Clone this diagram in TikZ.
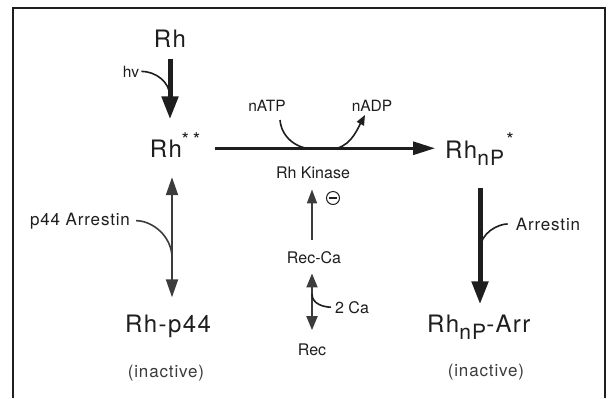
\documentclass[tikz,border=0pt]{standalone}
\usepackage{fontspec}
\setmainfont{TeX Gyre Heros}
\newfontfamily\widefont[LetterSpace=6]{TeX Gyre Heros}
\newfontfamily\spacedfont[LetterSpace=5]{TeX Gyre Heros}
\usetikzlibrary{arrows.meta}
\definecolor{ink}{HTML}{1E1E1E}
\definecolor{grayink}{HTML}{3C3C3C}
% lowered, slightly smaller subscript used in Rh_nP
\newcommand\lowsub[1]{\raisebox{-7bp}{\fontsize{21bp}{21bp}\selectfont #1}}

\begin{document}
\begin{tikzpicture}[x=1bp,y=-1bp,
  every node/.style={inner sep=0pt, text=ink},
  big/.style={font=\widefont\fontsize{24bp}{28bp}\selectfont},
  med/.style={font=\fontsize{16bp}{19bp}\selectfont},
  lab/.style={font=\spacedfont\fontsize{17bp}{20bp}\selectfont},
  small/.style={font=\fontsize{15.5bp}{18bp}\selectfont},
  starmark/.style={font=\fontsize{19bp}{19bp}\selectfont},
  heavy/.style={draw=ink, line width=5bp, -{Triangle[length=23bp,width=16bp]}},
  mainarrow/.style={draw=ink, line width=3bp, -{Triangle[length=22bp,width=13bp]}},
  side/.style={draw=ink, line width=1.6bp},
  dbl/.style={draw=grayink, line width=2bp,
    {Triangle[length=18bp,width=12bp]}-{Triangle[length=18bp,width=12bp]}},
  thinup/.style={draw=grayink, line width=1.6bp, -{Triangle[length=14bp,width=10bp]}},
  thindbl/.style={draw=grayink, line width=2bp,
    {Triangle[length=14bp,width=11bp]}-{Triangle[length=14bp,width=11bp]}},
  frame/.style={draw=ink, line width=2bp}
]
\useasboundingbox (0,0) rectangle (614,398);
\fill[white] (0,0) rectangle (614,398);

% open frame
\draw[frame] (13,398) -- (13,8) -- (605,8) -- (605,398);

% species
\node[big, anchor=base] (rh) at (170,47) {Rh};
\node[big, anchor=base] (rhs) at (166,157) {Rh};
\node[starmark] (rhstar) at (191,140) {*\hspace{4bp}*};
\node[big, anchor=base west] (rhnp) at (445,158) {Rh\lowsub{nP}};
\node[starmark] (rhnpstar) at (510,140) {*};
\node[big, anchor=base] (rhp44) at (168,332) {Rh-p44};
\node[big, anchor=base west] (rhnparr) at (427,332) {Rh\lowsub{nP}-Arr};
\node[lab, anchor=base, text=grayink] (inact1) at (166,377) {(inactive)};
\node[lab, anchor=base, text=grayink] (inact2) at (486,376) {(inactive)};

% side labels
\node[small, anchor=base] (hv) at (131,77) {hv};
\node[small, anchor=base] (natp) at (267,111) {nATP};
\node[small, anchor=base] (nadp) at (372,111) {nADP};
\node[med, anchor=base] (kinase) at (313,178) {Rh Kinase};
\node[lab, anchor=base] (p44) at (80,225) {p44 Arrestin};
\node[lab, anchor=base] (arrestin) at (548,230) {Arrestin};
\node[med, anchor=base] (recca) at (314,263) {Rec-Ca};
\node[med, anchor=base] (rec) at (312,355) {Rec};
\node[med, anchor=base] (twoca) at (352,313) {2 Ca};

% points where the side curves meet the main arrows
\coordinate (hvjoin) at (170,97);
\coordinate (atpin) at (280,120);
\coordinate (kinA) at (314,149);
\coordinate (kinB) at (330,149);
\coordinate (adpout) at (365,115);
\coordinate (p44join) at (172,258);
\coordinate (arrjoin) at (480,250);
\coordinate (cajoin) at (312,294);

% Rh -> Rh** (light)
\draw[heavy, shorten <=12bp, shorten >=20bp] (rh.south) -- (rh.south |- rhs.north);
\draw[side, shorten <=2bp] (hv.east) to[out=0,in=90] (hvjoin);

% Rh** -> RhnP* (kinase)
\draw[mainarrow, shorten <=14bp, shorten >=10bp] (rhstar.east |- rhs.center) -- (rhnp.west |- rhs.center);
\draw[side, -{Triangle[length=10bp,width=8bp]}]
  (atpin) to[out=-85,in=180] (kinA) -- (kinB) to[out=0,in=-118] (adpout);

% Rh** <-> Rh-p44
\draw[dbl, shorten <=20bp, shorten >=17bp] (rhs.south -| p44join) -- (rhp44.north -| p44join);
\draw[side, draw=grayink, shorten <=6bp] (p44.east) to[out=0,in=90] (p44join);

% RhnP* -> RhnP-Arr
\draw[heavy, shorten <=23bp, shorten >=10bp] (rhnp.south -| arrjoin) -- (rhnparr.north -| arrjoin);
\draw[side, shorten <=8bp] (arrestin.west) to[out=180,in=90] (arrjoin);

% recoverin branch
\draw[thinup, shorten <=11bp, shorten >=11bp] (recca.north -| cajoin) -- (kinase.south -| cajoin);
\node[circle, draw=ink, line width=1bp, minimum size=13bp] (inhib) at (333,198) {};
\draw[ink, line width=1.2bp] ([xshift=3bp]inhib.west) -- ([xshift=-3bp]inhib.east);
\draw[thindbl, shorten <=10bp, shorten >=13bp] (recca.south -| cajoin) -- (rec.north -| cajoin);
\draw[side, shorten <=4bp] (twoca.west) to[out=180,in=-90] (cajoin);
\end{tikzpicture}
\end{document}
